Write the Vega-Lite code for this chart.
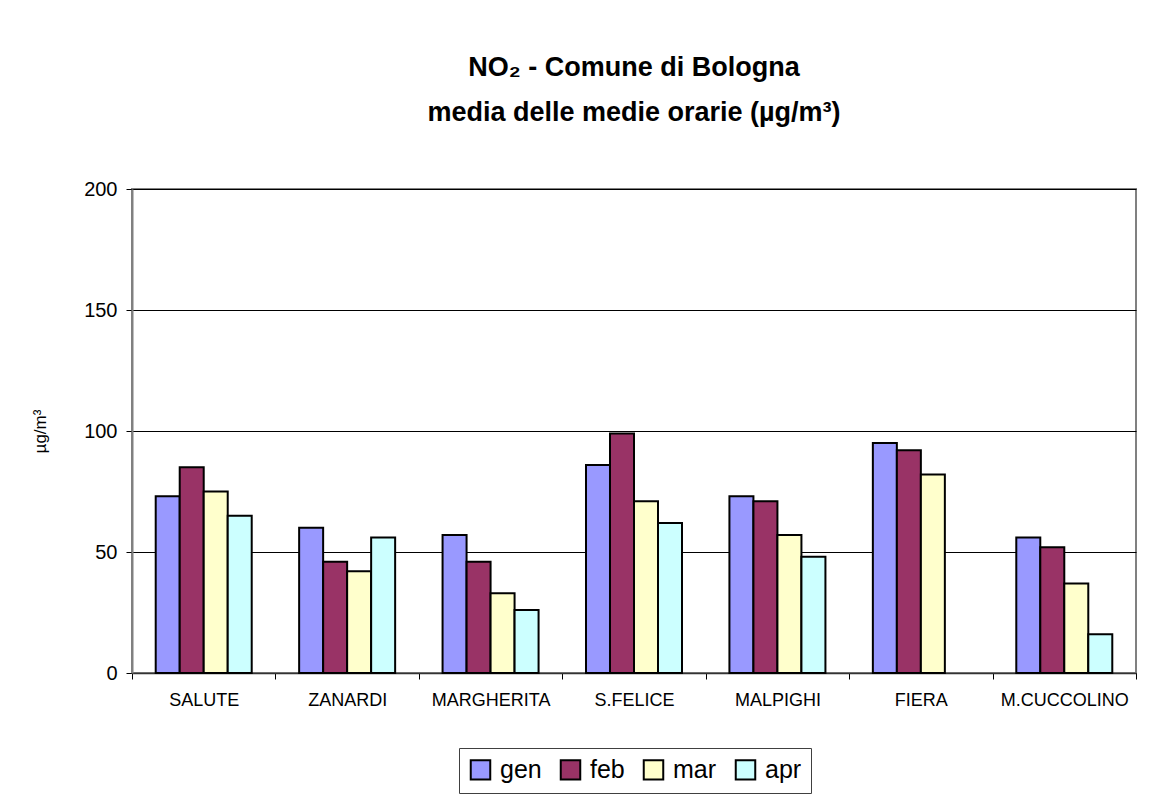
{
  "$schema": "https://vega.github.io/schema/vega-lite/v6.json",
  "autosize": "none",
  "width": 1004,
  "height": 484,
  "padding": {"left": 132, "top": 189, "right": 32, "bottom": 128},
  "background": "white",
  "title": {
    "text": ["NO₂ - Comune di Bologna", "media delle medie orarie (µg/m³)"],
    "font": "Liberation Sans",
    "fontSize": 27,
    "fontWeight": "bold",
    "lineHeight": 45,
    "color": "black",
    "anchor": "middle",
    "offset": 52
  },
  "data": {
    "values": [
      {"station": "SALUTE", "month": "gen", "value": 73},
      {"station": "SALUTE", "month": "feb", "value": 85},
      {"station": "SALUTE", "month": "mar", "value": 75},
      {"station": "SALUTE", "month": "apr", "value": 65},
      {"station": "ZANARDI", "month": "gen", "value": 60},
      {"station": "ZANARDI", "month": "feb", "value": 46},
      {"station": "ZANARDI", "month": "mar", "value": 42},
      {"station": "ZANARDI", "month": "apr", "value": 56},
      {"station": "MARGHERITA", "month": "gen", "value": 57},
      {"station": "MARGHERITA", "month": "feb", "value": 46},
      {"station": "MARGHERITA", "month": "mar", "value": 33},
      {"station": "MARGHERITA", "month": "apr", "value": 26},
      {"station": "S.FELICE", "month": "gen", "value": 86},
      {"station": "S.FELICE", "month": "feb", "value": 99},
      {"station": "S.FELICE", "month": "mar", "value": 71},
      {"station": "S.FELICE", "month": "apr", "value": 62},
      {"station": "MALPIGHI", "month": "gen", "value": 73},
      {"station": "MALPIGHI", "month": "feb", "value": 71},
      {"station": "MALPIGHI", "month": "mar", "value": 57},
      {"station": "MALPIGHI", "month": "apr", "value": 48},
      {"station": "FIERA", "month": "gen", "value": 95},
      {"station": "FIERA", "month": "feb", "value": 92},
      {"station": "FIERA", "month": "mar", "value": 82},
      {"station": "M.CUCCOLINO", "month": "gen", "value": 56},
      {"station": "M.CUCCOLINO", "month": "feb", "value": 52},
      {"station": "M.CUCCOLINO", "month": "mar", "value": 37},
      {"station": "M.CUCCOLINO", "month": "apr", "value": 16}
    ]
  },
  "mark": {"type": "bar", "stroke": "black", "strokeWidth": 2},
  "encoding": {
    "x": {
      "field": "station",
      "type": "nominal",
      "sort": ["SALUTE", "ZANARDI", "MARGHERITA", "S.FELICE", "MALPIGHI", "FIERA", "M.CUCCOLINO"],
      "scale": {"paddingInner": 0, "paddingOuter": 0},
      "axis": {
        "title": null,
        "labelAngle": 0,
        "labelFont": "Liberation Sans",
        "labelFontSize": 18,
        "labelColor": "black",
        "labelPadding": 12,
        "tickBand": "extent",
        "tickColor": "black",
        "tickSize": 6,
        "domainColor": "#333333",
        "domainWidth": 1.5,
        "grid": false
      }
    },
    "xOffset": {
      "field": "month",
      "type": "nominal",
      "sort": ["gen", "feb", "mar", "apr"],
      "scale": {"domain": ["gen", "feb", "mar", "apr"], "paddingInner": 0, "paddingOuter": 0.988}
    },
    "y": {
      "field": "value",
      "type": "quantitative",
      "scale": {"domain": [0, 200], "nice": false},
      "axis": {
        "title": "µg/m³",
        "titleFont": "Liberation Sans",
        "titleFontSize": 17,
        "titleFontWeight": "normal",
        "titleColor": "black",
        "titlePadding": 34,
        "values": [0, 50, 100, 150, 200],
        "labelFont": "Liberation Sans",
        "labelFontSize": 20,
        "labelColor": "black",
        "labelPadding": 9,
        "tickColor": "black",
        "tickSize": 6,
        "domainColor": "#808080",
        "domainWidth": 2,
        "grid": true,
        "gridColor": "black",
        "gridWidth": 1
      }
    },
    "color": {
      "field": "month",
      "type": "nominal",
      "scale": {"domain": ["gen", "feb", "mar", "apr"], "range": ["#9999FF", "#993366", "#FFFFCC", "#CCFFFF"]},
      "legend": {
        "title": null,
        "orient": "none",
        "direction": "horizontal",
        "legendX": 327,
        "legendY": 559,
        "labelFont": "Liberation Sans",
        "labelFontSize": 25,
        "labelColor": "black",
        "labelOffset": 7,
        "symbolType": "square",
        "symbolSize": 380,
        "symbolStrokeColor": "black",
        "symbolStrokeWidth": 2,
        "symbolOpacity": 1,
        "columnPadding": 14,
        "padding": 9,
        "strokeColor": "#404040",
        "fillColor": "white"
      }
    }
  },
  "config": {
    "view": {"stroke": "#808080", "strokeWidth": 2}
  }
}
